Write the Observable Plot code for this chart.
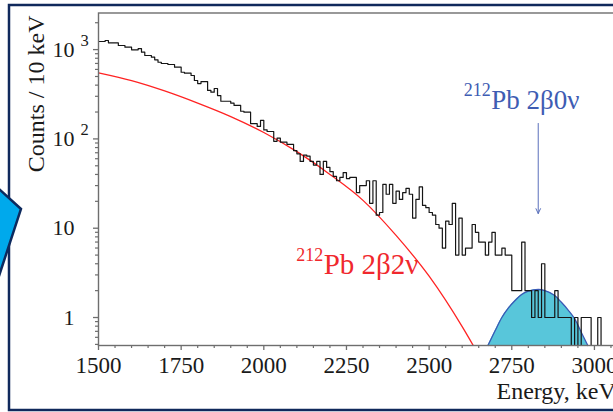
<!DOCTYPE html>
<html><head><meta charset="utf-8">
<script src="https://cdn.jsdelivr.net/npm/d3@7"></script>
<script src="https://cdn.jsdelivr.net/npm/@observablehq/plot@0.6"></script>
<style>
html,body{margin:0;padding:0;overflow:hidden;background:#fff;width:613px;height:412px;}
#chart{position:absolute;left:0;top:0;}
#deco{position:absolute;left:0;top:0;pointer-events:none;}
</style></head><body>
<div id="chart"></div>
<svg id="deco" width="613" height="412">
  <rect x="9" y="5" width="700" height="405" fill="none" stroke="#10295c" stroke-width="2.5"/>
  <polygon points="-12,179 21,209 -3,282 -20,282" fill="#00a9ec" stroke="#0d2a5e" stroke-width="2.5"/>
</svg>
<script>
// ---- data ----
const binStart = 1500;   // keV
const binWidth = 10;     // keV
const counts = [
  1233,1233,1265,1192,1192,1192,1112,1112,1064,1064,
  995,995,1028,935,859,859,822,769,722,699,
  699,681,681,635,635,558,544,544,513,451,
  417,439,439,349,334,367,306,264,264,264,
  251,237,237,204,199,199,148,148,138,161,
  126,121,121,94,102,92,92,87,87,74,
  68,56,66,64,56,51,56,40,56,48,
  43,38,34,37,42,36,37,37,25,
  30,30,34,19,34,14,15,31,24,31,
  19,26,21,25,28,24,13,21,29,18,
  17,15,14,11,10,6,12,11,19,5,
  13,5,6,6,11,9,7,7,5,7,
  9,5,5,6,5,5,
  2,2,2,7,2,2,1,2,1,4,
  1,1,1,2,1,1,1,1,0,1,
  0,1,1,1,0,0,1,0
];

// 212Pb 2β2ν spectrum (red curve)
const redEnergy = [1500,1600,1700,1800,1900,2000,2100,2200,2300,2400,2500,2600,2650];
const redValue  = [550, 450, 345, 252, 178, 118, 72,  40,  20.5,8.3, 2.9, 0.79,0.38];

// 212Pb 2β0ν peak (cyan)
const peakEnergy = [2678,2700,2720,2740,2760,2780,2800,2830,2850,2880,2900,2920,2940,2960,2980];
const peakValue  = [0.486,0.715,1.0,1.28,1.55,1.81,1.97,2.06,2.0,1.76,1.48,1.22,0.97,0.685,0.486];

// axes
const xMajorTicks = [1500,1750,2000,2250,2500,2750,3000];
const xMinorTicks = [1550,1600,1650,1700,1800,1850,1900,1950,2050,2100,2150,2200,2300,2350,2400,2450,2550,2600,2650,2700,2800,2850,2900,2950,3050];
const yMajorTicks = [1,10,100,1000];
const yTickLabels = ["1","10","10","10"];
const ySuperTicks = [100,1000];
const ySuperLabels = ["2","3"];
const yMinorTicks = [0.5,0.6,0.7,0.8,0.9,2,3,4,5,6,7,8,9,20,30,40,50,60,70,80,90,200,300,400,500,600,700,800,900,2000];

const xDomain = [1500,3100];
const yDomain = [0.486,2570];

// annotations (data coordinates)
const label0v = {e: 2688, v: 217, sup: "212", main: "Pb 2β0ν"};
const label2v = {e: 2181, v: 3.09, sup: "212", main: "Pb 2β2ν"};
const arrow0v = {e: 2830, from: 149, to: 14.6};

// ---- tables ----
const hist = counts.map((c,i)=>({e: binStart + i*binWidth, c}));
hist.push({e: binStart + counts.length*binWidth, c: counts[counts.length-1]});
const red = redEnergy.map((e,i)=>({e, v: redValue[i]}));
const peak = peakEnergy.map((e,i)=>({e, v: peakValue[i]}));
const supers = ySuperTicks.map((v,i)=>({v, s: ySuperLabels[i]}));

const axisGray = "#6e6e6e";
const blue = "#3e5cb3";
const redCol = "#ff2323";

const chart = Plot.plot({
  width: 640, height: 412,
  marginLeft: 98, marginRight: 13, marginTop: 12.5, marginBottom: 67,
  x: {domain: xDomain, label: null},
  y: {type: "log", domain: yDomain, label: null},
  style: {fontFamily: "Liberation Serif", fontSize: "22px", color: "#1a1a1a", background: "transparent", maxWidth: "none", overflow: "visible"},
  marks: [
    Plot.areaY(peak, {x: "e", y1: yDomain[0], y2: "v", fill: "#58c6da", curve: "monotone-x"}),
    Plot.line(peak, {x: "e", y: "v", stroke: "#3a58b5", strokeWidth: 1.3, curve: "monotone-x"}),
    Plot.line(red, {x: "e", y: "v", stroke: redCol, strokeWidth: 1.3, curve: "monotone-x", clip: "frame"}),
    Plot.line(hist, {x: "e", y: d => d.c > 0 ? d.c : yDomain[0], curve: "step-after", stroke: "#151515", strokeWidth: 1.2, clip: "frame"}),
    Plot.frame({stroke: axisGray, strokeWidth: 1.4}),
    Plot.axisX(xMajorTicks, {tickSize: 5, tickPadding: 6, fontSize: 23, stroke: axisGray, strokeWidth: 1.3, label: null, tickFormat: d => String(d)}),
    Plot.axisX(xMinorTicks, {tickSize: 3, stroke: axisGray, strokeWidth: 1.2, label: null, tickFormat: () => ""}),
    Plot.axisY(yMajorTicks, {tickSize: 5, tickPadding: 19, fontSize: 22, stroke: axisGray, strokeWidth: 1.3, label: null, tickFormat: d => yTickLabels[yMajorTicks.indexOf(d)]}),
    Plot.axisY(yMinorTicks, {tickSize: 3, stroke: axisGray, strokeWidth: 1.2, label: null, tickFormat: () => ""}),
    Plot.text(supers, {y: "v", text: "s", frameAnchor: "left", dx: -18, dy: -4, textAnchor: "start", lineAnchor: "bottom", fontSize: 16.5, fill: "#1a1a1a"}),
    Plot.text(["Counts / 10 keV"], {frameAnchor: "top-left", dx: -55, dy: 2.5, rotate: -90, textAnchor: "end", lineAnchor: "bottom", fontSize: 24, fill: "#1a1a1a"}),
    Plot.text(["Energy, keV"], {frameAnchor: "bottom-left", dx: 398, dy: 53, textAnchor: "start", lineAnchor: "bottom", fontSize: 24, fill: "#1a1a1a"}),
    // blue 2β0ν label + arrow
    Plot.text([label0v], {x: "e", y: "v", text: "main", textAnchor: "start", lineAnchor: "bottom", fontSize: 27, fill: blue}),
    Plot.text([label0v], {x: "e", y: "v", text: "sup", textAnchor: "end", lineAnchor: "bottom", dx: -0.5, dy: -13, fontSize: 18, fill: blue}),
    Plot.arrow([arrow0v], {x1: "e", x2: "e", y1: "from", y2: "to", stroke: "#5a70bb", strokeWidth: 1, headLength: 8, headAngle: 50}),
    // red 2β2ν label
    Plot.text([label2v], {x: "e", y: "v", text: "main", textAnchor: "start", lineAnchor: "bottom", fontSize: 29, fill: "#f0282d"}),
    Plot.text([label2v], {x: "e", y: "v", text: "sup", textAnchor: "end", lineAnchor: "bottom", dx: -0.5, dy: -13, fontSize: 18, fill: "#f0282d"})
  ]
});
document.getElementById("chart").appendChild(chart);
</script>
</body></html>
